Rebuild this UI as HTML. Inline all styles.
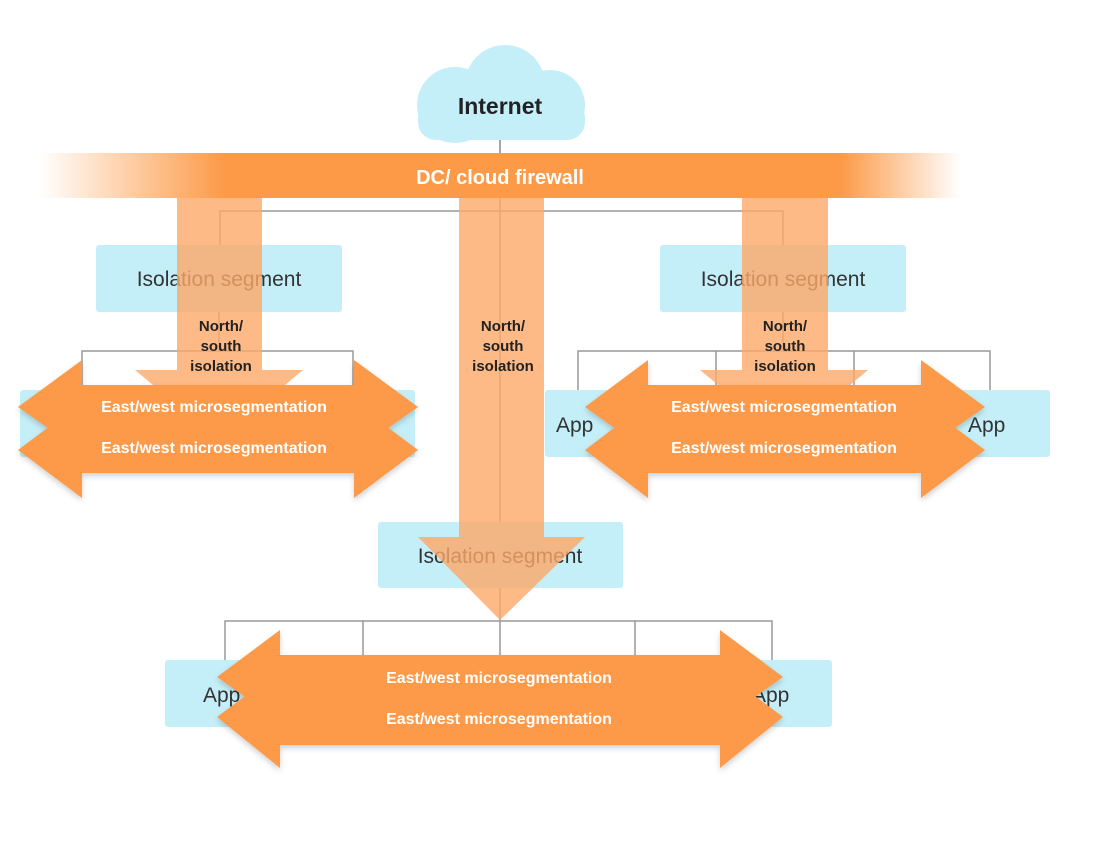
<!DOCTYPE html>
<html><head><meta charset="utf-8"><style>
html,body{margin:0;padding:0;background:#fff;}
svg{display:block;}
text{font-family:"Liberation Sans",sans-serif;}
</style></head><body>
<svg width="1118" height="842" viewBox="0 0 1118 842" xmlns="http://www.w3.org/2000/svg">
<defs>
<linearGradient id="fw" x1="0" x2="1" y1="0" y2="0">
<stop offset="0" stop-color="#fc9a48" stop-opacity="0"/>
<stop offset="0.2" stop-color="#fc9a48" stop-opacity="1"/>
<stop offset="0.87" stop-color="#fc9a48" stop-opacity="1"/>
<stop offset="1" stop-color="#fc9a48" stop-opacity="0"/>
</linearGradient>
<filter id="sh" x="-10%" y="-20%" width="120%" height="150%"><feDropShadow dx="0" dy="3" stdDeviation="3" flood-color="#000" flood-opacity="0.18"/></filter>
</defs>
<!-- cloud -->
<g fill="#c5eff8">
<circle cx="455" cy="105" r="38"/><circle cx="505" cy="85" r="40"/><circle cx="550" cy="105" r="35"/>
<rect x="418" y="100" width="167" height="40" rx="18"/>
</g>
<text x="500" y="114" text-anchor="middle" font-size="23" font-weight="bold" fill="#222">Internet</text>
<line x1="500" y1="140" x2="500" y2="155" stroke="#888" stroke-width="1.5"/>
<!-- firewall -->
<rect x="40" y="153" width="920" height="45" fill="url(#fw)"/>
<text x="500" y="184" text-anchor="middle" font-size="20" font-weight="bold" fill="#fff">DC/ cloud firewall</text>
<!-- boxes -->
<g fill="#c5eff8">
<rect x="96" y="245" width="246" height="67" rx="3"/>
<rect x="660" y="245" width="246" height="67" rx="3"/>
<rect x="378" y="522" width="245" height="66" rx="3"/>
<rect x="20" y="390" width="395" height="67" rx="3"/>
<rect x="545" y="390" width="100" height="67" rx="3"/>
<rect x="945" y="390" width="105" height="67" rx="3"/>
<rect x="165" y="660" width="100" height="67" rx="3"/>
<rect x="735" y="660" width="97" height="67" rx="3"/>
</g>
<g font-size="21" fill="#333">
<text x="219" y="286" text-anchor="middle">Isolation segment</text>
<text x="783" y="286" text-anchor="middle">Isolation segment</text>
<text x="500" y="563" text-anchor="middle">Isolation segment</text>
<text x="556" y="432">App</text>
<text x="968" y="432">App</text>
<text x="203" y="702">App</text>
<text x="752" y="702">App</text>
</g>
<!-- gray lines -->
<g stroke="#999" stroke-width="1.5" fill="none">
<polyline points="220,245 220,211 783,211 783,245"/>
<line x1="500" y1="198" x2="500" y2="522"/>
<polyline points="82,390 82,351 353,351 353,390"/>
<line x1="219" y1="312" x2="219" y2="351"/>
<polyline points="578,390 578,351 990,351 990,390"/>
<line x1="716" y1="351" x2="716" y2="390"/><line x1="854" y1="351" x2="854" y2="390"/>
<line x1="783" y1="312" x2="783" y2="351"/>
<polyline points="225,660 225,621 772,621 772,660"/>
<line x1="363" y1="621" x2="363" y2="660"/><line x1="500" y1="588" x2="500" y2="660"/><line x1="635" y1="621" x2="635" y2="660"/>
</g>
<!-- vertical arrows -->
<g fill="#fca768" opacity="0.8">
<polygon points="177,198 262,198 262,370 303,370 219,440 135,370 177,370"/>
<polygon points="742,198 828,198 828,370 868,370 785,440 700,370 742,370"/>
<polygon points="459,198 544,198 544,537 585,537 500,620 418,537 459,537"/>
</g>
<g font-size="15" font-weight="bold" fill="#222" text-anchor="middle">
<text x="221" y="331">North/</text><text x="221" y="351">south</text><text x="221" y="371">isolation</text>
<text x="503" y="331">North/</text><text x="503" y="351">south</text><text x="503" y="371">isolation</text>
<text x="785" y="331">North/</text><text x="785" y="351">south</text><text x="785" y="371">isolation</text>
</g>
<!-- E/W arrows -->
<g fill="#fc9a48" filter="url(#sh)">
<polygon points="18,407 82,360 82,385 354,385 354,360 418,407 354,452 354,428 82,428 82,452"/>
<polygon points="18,450 82,402 82,427 354,427 354,402 418,450 354,498 354,473 82,473 82,498"/>
<polygon points="585,407 648,360 648,385 921,385 921,360 985,407 921,452 921,428 648,428 648,452"/>
<polygon points="585,450 648,402 648,427 921,427 921,402 985,450 921,498 921,473 648,473 648,498"/>
<polygon points="217,677 280,630 280,655 720,655 720,630 783,677 720,722 720,698 280,698 280,722"/>
<polygon points="217,717 280,670 280,695 720,695 720,670 783,717 720,768 720,745 280,745 280,768"/>
</g>
<g font-size="16" font-weight="bold" fill="#fff" text-anchor="middle">
<text x="214" y="412">East/west microsegmentation</text>
<text x="214" y="453">East/west microsegmentation</text>
<text x="784" y="412">East/west microsegmentation</text>
<text x="784" y="453">East/west microsegmentation</text>
<text x="499" y="683">East/west microsegmentation</text>
<text x="499" y="724">East/west microsegmentation</text>
</g>
</svg>
</body></html>
